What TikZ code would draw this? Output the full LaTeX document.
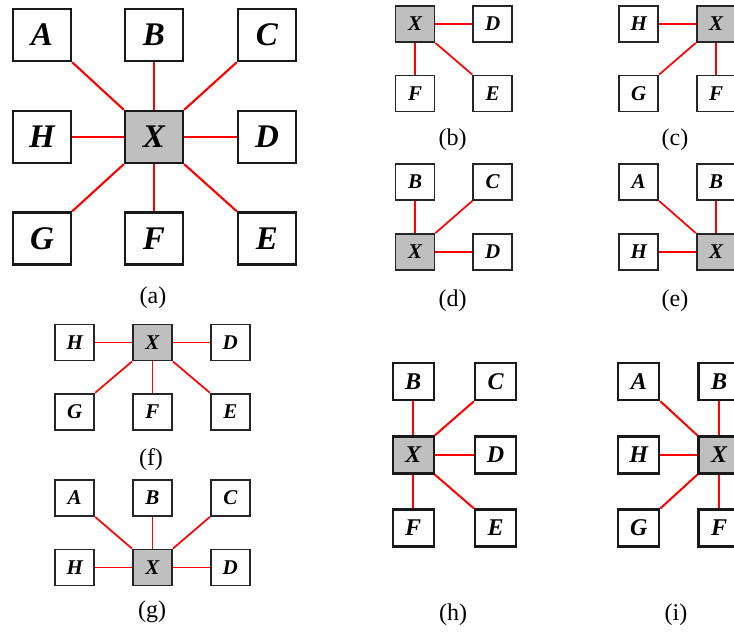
\documentclass[tikz,border=0pt]{standalone}
\usepackage{fontspec}
\setmainfont{Liberation Serif}
\begin{document}
\begin{tikzpicture}[x=1pt,y=-1pt,
  bxa/.style={draw=black!90, fill=white, inner sep=0pt, line width=2.4pt,
    minimum width=58pt, minimum height=52pt,
    font=\fontsize{33}{33}\selectfont\bfseries\itshape},
  bxs/.style={draw=black!85, fill=white, inner sep=0pt, line width=1.8pt,
    minimum width=39pt, minimum height=36pt,
    font=\fontsize{21}{21}\selectfont\bfseries\itshape},
  bxh/.style={draw=black!90, fill=white, inner sep=0pt, line width=2.1pt,
    minimum width=41pt, minimum height=37pt,
    font=\fontsize{24}{24}\selectfont\bfseries\itshape},
  ctr/.style={fill=black!25},
  lka/.style={draw=red, line width=2.1pt},
  lks/.style={draw=red, line width=1.7pt},
  lkh/.style={draw=red, line width=2pt},
  lbl/.style={inner sep=0pt, font=\fontsize{24}{24}\selectfont}
]
\useasboundingbox (0,0) rectangle (734,635);
\clip (0,0) rectangle (734,635);

% ---------- (a)
\node[bxa] (aA) at (42,35) {A};
\node[bxa] (aB) at (154,35) {B};
\node[bxa] (aC) at (267,35) {C};
\node[bxa] (aH) at (42,137) {H};
\node[bxa,ctr] (aX) at (154,137) {X};
\node[bxa] (aD) at (267,137) {D};
\node[bxa] (aG) at (42,238.5) {G};
\node[bxa] (aF) at (154,238.5) {F};
\node[bxa] (aE) at (267,238.5) {E};
\draw[lka] (aX.north west) -- (aA.south east);
\draw[lka] (aX.north) -- (aB.south);
\draw[lka] (aX.north east) -- (aC.south west);
\draw[lka] (aX.west) -- (aH.east);
\draw[lka] (aX.east) -- (aD.west);
\draw[lka] (aX.south west) -- (aG.north east);
\draw[lka] (aX.south) -- (aF.north);
\draw[lka] (aX.south east) -- (aE.north west);
\node[lbl] (la) at (153,298) {(a)};

% ---------- (b)
\node[bxs,ctr] (bX) at (415,24) {X};
\node[bxs] (bD) at (492.7,24) {D};
\node[bxs] (bF) at (415,93.5) {F};
\node[bxs] (bE) at (492.7,93.5) {E};
\draw[lks] (bX.east) -- (bD.west);
\draw[lks] (bX.south) -- (bF.north);
\draw[lks] (bX.south east) -- (bE.north west);
\node[lbl] (lb) at (452.7,140) {(b)};

% ---------- (c)
\node[bxs] (cH) at (638.7,24) {H};
\node[bxs,ctr] (cX) at (716.2,24) {X};
\node[bxs] (cG) at (638.7,93.5) {G};
\node[bxs] (cF) at (716.2,93.5) {F};
\draw[lks] (cX.west) -- (cH.east);
\draw[lks] (cX.south west) -- (cG.north east);
\draw[lks] (cX.south) -- (cF.north);
\node[lbl] (lc) at (675,140) {(c)};

% ---------- (d)
\node[bxs] (dB) at (415,182) {B};
\node[bxs] (dC) at (492.7,182) {C};
\node[bxs,ctr] (dX) at (415,252) {X};
\node[bxs] (dD) at (492.7,252) {D};
\draw[lks] (dX.north) -- (dB.south);
\draw[lks] (dX.north east) -- (dC.south west);
\draw[lks] (dX.east) -- (dD.west);
\node[lbl] (ld) at (452.7,301) {(d)};

% ---------- (e)
\node[bxs] (eA) at (638.7,182) {A};
\node[bxs] (eB) at (716.2,182) {B};
\node[bxs] (eH) at (638.7,252) {H};
\node[bxs,ctr] (eX) at (716.2,252) {X};
\draw[lks] (eX.north west) -- (eA.south east);
\draw[lks] (eX.north) -- (eB.south);
\draw[lks] (eX.west) -- (eH.east);
\node[lbl] (le) at (675,301) {(e)};

% ---------- (f)
\node[bxs] (fH) at (74.7,342.5) {H};
\node[bxs,ctr] (fX) at (152.5,342.5) {X};
\node[bxs] (fD) at (230.3,342.5) {D};
\node[bxs] (fG) at (74.7,411.7) {G};
\node[bxs] (fF) at (152.5,411.7) {F};
\node[bxs] (fE) at (230.3,411.7) {E};
\draw[lks] (fX.west) -- (fH.east);
\draw[lks] (fX.east) -- (fD.west);
\draw[lks] (fX.south west) -- (fG.north east);
\draw[lks] (fX.south) -- (fF.north);
\draw[lks] (fX.south east) -- (fE.north west);
\node[lbl] (lf) at (151,460) {(f)};

% ---------- (g)
\node[bxs] (gA) at (74.7,498) {A};
\node[bxs] (gB) at (152.5,498) {B};
\node[bxs] (gC) at (230.3,498) {C};
\node[bxs] (gH) at (74.7,567.5) {H};
\node[bxs,ctr] (gX) at (152.5,567.5) {X};
\node[bxs] (gD) at (230.3,567.5) {D};
\draw[lks] (gX.north west) -- (gA.south east);
\draw[lks] (gX.north) -- (gB.south);
\draw[lks] (gX.north east) -- (gC.south west);
\draw[lks] (gX.west) -- (gH.east);
\draw[lks] (gX.east) -- (gD.west);
\node[lbl] (lg) at (152,612) {(g)};

% ---------- (h)
\node[bxh] (hB) at (413.2,381.7) {B};
\node[bxh] (hC) at (495.5,381.7) {C};
\node[bxh,ctr] (hX) at (413.2,455) {X};
\node[bxh] (hD) at (495.5,455) {D};
\node[bxh] (hF) at (413.2,528) {F};
\node[bxh] (hE) at (495.5,528) {E};
\draw[lkh] (hX.north) -- (hB.south);
\draw[lkh] (hX.north east) -- (hC.south west);
\draw[lkh] (hX.east) -- (hD.west);
\draw[lkh] (hX.south) -- (hF.north);
\draw[lkh] (hX.south east) -- (hE.north west);
\node[lbl] (lh) at (453,615) {(h)};

% ---------- (i)
\node[bxh] (iA) at (638.8,381.7) {A};
\node[bxh] (iB) at (719,381.7) {B};
\node[bxh] (iH) at (638.8,455) {H};
\node[bxh,ctr] (iX) at (719,455) {X};
\node[bxh] (iG) at (638.8,528) {G};
\node[bxh] (iF) at (719,528) {F};
\draw[lkh] (iX.north west) -- (iA.south east);
\draw[lkh] (iX.north) -- (iB.south);
\draw[lkh] (iX.west) -- (iH.east);
\draw[lkh] (iX.south west) -- (iG.north east);
\draw[lkh] (iX.south) -- (iF.north);
\node[lbl] (li) at (676,615) {(i)};
\end{tikzpicture}
\end{document}
